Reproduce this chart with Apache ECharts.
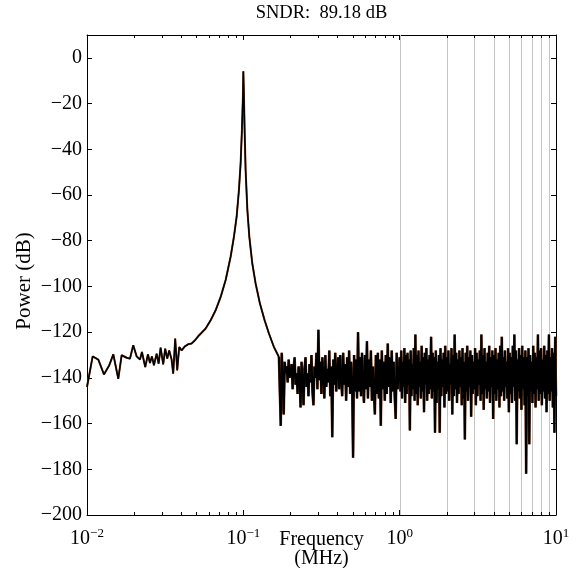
<!DOCTYPE html>
<html>
<head>
<meta charset="utf-8">
<script src="https://cdn.jsdelivr.net/npm/echarts@6/dist/echarts.min.js"></script>
<style>
  html, body { margin: 0; padding: 0; background: #fff; }
  #chart { width: 576px; height: 568px; }
</style>
</head>
<body>
<div id="chart"></div>
<script>
var serif = '"Liberation Serif", "Times New Roman", serif';

// low-frequency floor, [MHz, dB]
var lowBand = [
  [0.0100, -144.0], [0.01087, -130.6], [0.01181, -132.0], [0.01284, -138.5], [0.01388, -134.5],
  [0.01473, -129.7], [0.01585, -140.4], [0.01666, -130.1], [0.01794, -131.2], [0.01883, -131.6],
  [0.01976, -125.7], [0.02078, -130.6], [0.02182, -132.0], [0.02246, -128.7], [0.02358, -135.3],
  [0.02454, -129.7], [0.02527, -133.5], [0.02602, -130.6], [0.02680, -134.5], [0.02789, -129.4],
  [0.02872, -133.8], [0.02958, -126.8], [0.03072, -134.1], [0.03164, -127.2], [0.03259, -131.6],
  [0.03356, -128.0], [0.03477, -132.0], [0.03559, -138.2], [0.03666, -122.8], [0.03776, -136.7],
  [0.03889, -126.5], [0.04029, -128.0], [0.04229, -126.2], [0.04439, -125.3], [0.04667, -125.0],
  [0.04899, -123.6], [0.05143, -121.8]
];

// signal tone at 0.1 MHz and its skirt, [MHz, dB]
var peakSkirt = [
  [0.05743, -118.4], [0.06180, -114.8], [0.06653, -110.4], [0.07161, -104.6], [0.07708, -97.2],
  [0.08295, -87.0], [0.08709, -78.2], [0.09062, -69.5], [0.09373, -57.8], [0.09610, -46.1],
  [0.09797, -31.4], [0.09941, -16.8], [0.1000, -5.9], [0.1009, -16.8], [0.1019, -31.4],
  [0.1034, -49.0], [0.1061, -66.5], [0.1092, -78.2], [0.1141, -89.9], [0.1198, -98.7],
  [0.1277, -107.5], [0.1368, -114.8], [0.1458, -120.6], [0.1569, -126.5], [0.1689, -130.9]
];

// noise floor 0.171 .. 0.971 MHz, one reading per pixel column (dB)
var noiseASpan = [0.171, 0.971];
var noiseA = [
  -131, -161, -129, -140, -156, -133, -138, -135, -142, -132, -140, -137, -134, -145, -136, -131, -143, -138, -147, -135,
  -139, -153, -133, -141, -152, -136, -131, -144, -138, -148, -134, -142, -130, -146, -152, -135, -140, -129, -145, -119,
  -141, -133, -147, -131, -139, -149, -130, -144, -136, -142, -128, -148, -135, -166, -132, -143, -129, -146, -137, -131,
  -145, -130, -141, -148, -129, -143, -134, -150, -131, -144, -128, -147, -133, -142, -175, -130, -146, -132, -149, -120,
  -146, -131, -148, -129, -143, -151, -130, -145, -124, -149, -132, -144, -128, -150, -135, -146, -156, -130, -147, -129,
  -149, -132, -161, -128, -145, -133, -150, -130, -147, -125, -144, -131, -151, -128, -146, -133, -148, -158, -129, -145
];

// noise floor 1 .. 10 MHz (dB)
var noiseBSpan = [1.0, 10];
var noiseB = [
  -131, -146, -128, -149, -133, -144, -127, -151, -130, -147, -129, -143, -132, -163, -128, -148, -134, -145, -127, -150,
  -121, -147, -130, -152, -128, -144, -133, -149, -126, -146, -131, -155, -129, -143, -127, -150, -132, -147, -130, -145,
  -122, -149, -129, -146, -131, -164, -128, -151, -133, -145, -130, -164, -127, -148, -132, -144, -129, -153, -126, -147,
  -131, -146, -128, -150, -134, -143, -127, -156, -130, -148, -121, -145, -129, -151, -132, -147, -128, -144, -131, -152,
  -127, -149, -133, -167, -129, -146, -126, -150, -131, -144, -128, -157, -130, -147, -133, -145, -127, -152, -129, -148,
  -132, -143, -128, -150, -121, -147, -130, -154, -127, -145, -133, -149, -129, -146, -126, -151, -131, -144, -128, -158,
  -130, -147, -127, -150, -132, -145, -129, -153, -126, -148, -122, -146, -131, -150, -128, -144, -133, -149, -127, -155,
  -129, -147, -131, -151, -126, -144, -121, -150, -128, -169, -132, -146, -127, -149, -130, -154, -126, -145, -131, -152,
  -128, -182, -131, -148, -127, -169, -130, -146, -133, -151, -126, -147, -129, -153, -131, -145, -121, -150, -128, -147,
  -127, -152, -132, -146, -126, -149, -130, -155, -128, -147, -121, -150, -131, -146, -127, -153, -129, -164, -122, -148
];

var minorTicks = [0.02, 0.03, 0.04, 0.05, 0.06, 0.07, 0.08, 0.09,
                  0.2, 0.3, 0.4, 0.5, 0.6, 0.7, 0.8, 0.9,
                  2, 3, 4, 5, 6, 7, 8, 9];
var gridFreqs = [1, 2, 3, 4, 5, 6, 7, 8, 9];

// place a run of readings at evenly spaced (log) frequencies inside a span
function spread(span, vals) {
  var a = Math.log10(span[0]), b = Math.log10(span[1]);
  return vals.map(function (v, i) {
    return [Math.pow(10, a + (b - a) * i / (vals.length - 1)), v];
  });
}

var toneData = lowBand.concat(peakSkirt);
var floorData = [peakSkirt[peakSkirt.length - 1]].concat(spread(noiseASpan, noiseA), spread(noiseBSpan, noiseB));

function minus(n) { return n < 0 ? '\u2212' + (-n) : String(n); }

function tickItem(params, api) {
  var x = Math.round(api.coord([api.value(0), 0])[0]) + 0.5;
  var cs = params.coordSys;
  var top = cs.y, bottom = cs.y + cs.height;
  var s = { stroke: '#000', lineWidth: 1 };
  return { type: 'group', children: [
    { type: 'line', shape: { x1: x, y1: bottom, x2: x, y2: bottom - 3 }, style: s },
    { type: 'line', shape: { x1: x, y1: top, x2: x, y2: top + 3 }, style: s }
  ] };
}

function gridItem(params, api) {
  var x = Math.round(api.coord([api.value(0), 0])[0]) + 0.5;
  var cs = params.coordSys;
  return { type: 'line', shape: { x1: x, y1: cs.y, x2: x, y2: cs.y + cs.height },
           style: { stroke: '#c4c4c4', lineWidth: 1 } };
}

function trace(data, color, width, z) {
  return {
    type: 'line', xAxisIndex: 0, yAxisIndex: 0, z: z, silent: true,
    data: data, showSymbol: false, symbol: 'none',
    lineStyle: { color: color, width: width }
  };
}

var axisLine = { show: true, onZero: false, lineStyle: { color: '#000', width: 1 } };
var axisTick = { show: true, inside: true, length: 5, lineStyle: { color: '#000', width: 1 } };

var chart = echarts.init(document.getElementById('chart'), null, { renderer: 'canvas' });
chart.setOption({
  animation: false,
  backgroundColor: '#fff',
  grid: { left: 87, right: 20, top: 35, bottom: 53, outerBoundsMode: 'none' },
  xAxis: [{
    type: 'log', logBase: 10, min: 0.01, max: 10, position: 'bottom',
    name: 'Frequency\n(MHz)', nameLocation: 'middle', nameGap: 15, nameMoveOverlap: false,
    nameTextStyle: { fontFamily: serif, fontSize: 20, color: '#000', lineHeight: 19 },
    axisLine: axisLine, axisTick: axisTick,
    axisLabel: {
      margin: 12, color: '#000',
      formatter: function (v) {
        return '{b|10}{s|' + minus(Math.round(Math.log10(v))) + '}';
      },
      rich: {
        b: { fontFamily: serif, fontSize: 20, color: '#000', lineHeight: 24 },
        s: { fontFamily: serif, fontSize: 13, color: '#000', lineHeight: 11, verticalAlign: 'top' }
      }
    },
    splitLine: { show: false }
  }, {
    type: 'log', logBase: 10, min: 0.01, max: 10, position: 'top',
    name: 'SNDR:  89.18 dB', nameLocation: 'middle', nameGap: 12, nameMoveOverlap: false,
    nameTextStyle: { fontFamily: serif, fontSize: 18.5, color: '#000' },
    axisLine: axisLine, axisTick: axisTick,
    axisLabel: { show: false }, splitLine: { show: false }
  }],
  yAxis: [{
    type: 'value', min: -200, max: 10, interval: 20, position: 'left',
    name: 'Power (dB)', nameLocation: 'middle', nameGap: 52, nameMoveOverlap: false,
    nameTextStyle: { fontFamily: serif, fontSize: 21, color: '#000', padding: [0, 12, 0, 0] },
    axisLine: axisLine, axisTick: axisTick,
    axisLabel: {
      margin: 5, color: '#000', fontFamily: serif, fontSize: 20,
      formatter: function (v) { return v % 20 === 0 ? minus(v) : ''; }
    },
    splitLine: { show: false }
  }, {
    type: 'value', min: -200, max: 10, interval: 20, position: 'right',
    axisLine: axisLine, axisTick: axisTick,
    axisLabel: { show: false }, splitLine: { show: false }
  }],
  series: [{
    type: 'custom', xAxisIndex: 0, yAxisIndex: 0, z: 1, silent: true,
    renderItem: gridItem,
    data: gridFreqs.map(function (f) { return [f, 0]; })
  },
    trace(toneData, '#7b3f1e', 2, 2),
    trace(floorData, '#7b3f1e', 2.6, 2),
    trace(toneData, '#000', 1.5, 3),
    trace(floorData, '#000', 2, 3),
  {
    type: 'custom', xAxisIndex: 0, yAxisIndex: 0, z: 4, silent: true,
    renderItem: tickItem,
    data: minorTicks.map(function (f) { return [f, 0]; })
  }]
});
</script>
</body>
</html>
